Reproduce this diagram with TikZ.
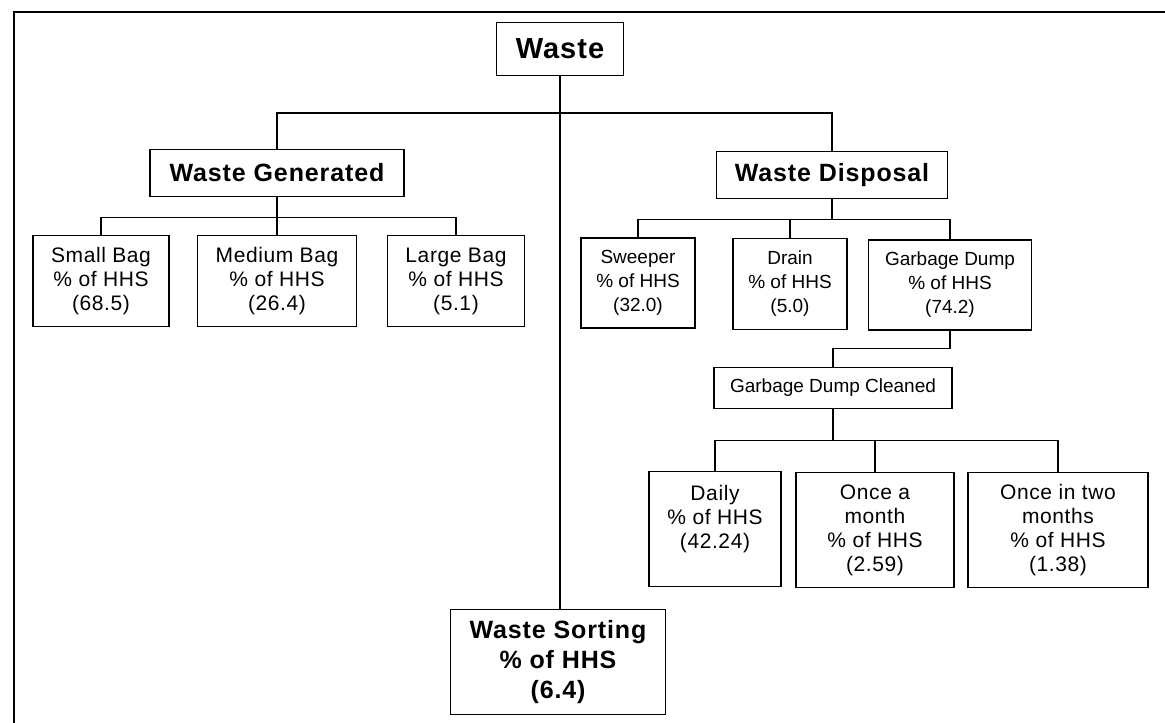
\documentclass[tikz,border=0pt]{standalone}
\usepackage{fontspec}
\setmainfont{Liberation Sans}
\newfontfamily\wideheadfont[LetterSpace=3.5]{Liberation Sans}
\newfontfamily\wideleaffont[LetterSpace=2.8]{Liberation Sans}
\usepackage{tikz}
\usetikzlibrary{positioning}

\begin{document}
\begin{tikzpicture}[
    x=1pt, y=-1pt,
    box/.style={draw, line width=1.3pt, align=center, inner sep=0pt}, % all boxes
    head/.style={box, font=\wideheadfont\bfseries\fontsize{25}{30}\selectfont},
    leaf/.style={box, font=\wideleaffont\fontsize{21}{24}\selectfont},
    smallleaf/.style={box, font=\fontsize{19}{24}\selectfont},
    link/.style={line width=1.2pt}
    ]
\useasboundingbox (0,0) rectangle (1165,723);
\draw[line width=1.6pt] (1165,12) -- (14,12) -- (14,723);

\node[head, font=\wideheadfont\bfseries\fontsize{29}{32}\selectfont, minimum width=127, minimum height=53] (waste) at (560,49) {Waste};

\node[head, minimum width=254, minimum height=47] (gen) at (277,173) {Waste Generated};
\node[head, minimum width=231, minimum height=47] (disp) at (832,175) {Waste Disposal};

\node[leaf, minimum width=136, minimum height=91] (small) at (101,281) {Small Bag\\\% of HHS\\(68.5)};
\node[leaf, minimum width=159, minimum height=91] (medium) at (277,281) {Medium Bag\\\% of HHS\\(26.4)};
\node[leaf, minimum width=137, minimum height=91] (large) at (456,281) {Large Bag\\\% of HHS\\(5.1)};

\node[smallleaf, minimum width=114, minimum height=90] (sweeper) at (638,283) {Sweeper\\\% of HHS\\(32.0)};
\node[smallleaf, minimum width=114, minimum height=91] (drain) at (790,284) {Drain\\\% of HHS\\(5.0)};
\node[smallleaf, minimum width=163, minimum height=90] (dump) at (950,285) {Garbage Dump\\\% of HHS\\(74.2)};

\node[smallleaf, minimum width=238, minimum height=41] (cleaned) at (833,388) {Garbage Dump Cleaned};

\node[leaf, minimum width=132, minimum height=115] (daily) at (715,529) {Daily\\\% of HHS\\(42.24)\\\mbox{}};
\node[leaf, minimum width=158, minimum height=115] (monthly) at (875,530) {Once a\\month\\\% of HHS\\(2.59)};
\node[leaf, minimum width=180, minimum height=115] (bimonthly) at (1058,530) {Once in two\\months\\\% of HHS\\(1.38)};

\node[head, minimum width=215, minimum height=105] (sorting) at (558,662) {Waste Sorting\\\% of HHS\\(6.4)};

% connectors
\coordinate (top) at (560,113);
\draw[link] (waste.south) -- (waste.south |- sorting.north);
\draw[link] (gen.north) |- (top) -| (disp.north);

\draw[link] (gen.south) -- ++(0,20) coordinate (genbar);
\draw[link] (small.north) |- (genbar) -| (large.north);
\draw[link] (medium.north) -- (genbar);

\draw[link] (disp.south) -- ++(0,20) coordinate (dispbar);
\draw[link] (sweeper.north) |- (dispbar) -| (dump.north);
\draw[link] (drain.north) -- (drain.north |- dispbar);

\draw[link] (dump.south) -- ++(0,18) -| (cleaned.north);

\draw[link] (cleaned.south) -- ++(0,31) coordinate (cleanbar);
\draw[link] (daily.north) |- (cleanbar) -| (bimonthly.north);
\draw[link] (monthly.north) -- (monthly.north |- cleanbar);
\end{tikzpicture}
\end{document}
